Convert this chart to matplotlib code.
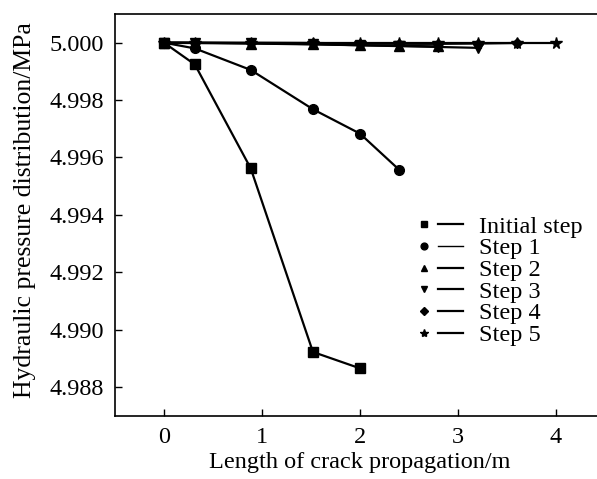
import numpy as np
import matplotlib.pyplot as plt
from matplotlib.lines import Line2D
from matplotlib.legend_handler import HandlerTuple

# crack length points (m)
x_all = [0, 0.315, 0.885, 1.52, 2.0, 2.4, 2.8, 3.2, 3.6, 4.0]

# hydraulic pressure (MPa) for each step
p_init = [5.0, 4.99924, 4.99562, 4.98922, 4.98865]
p_step1 = [5.0, 4.99980, 4.99905, 4.99768, 4.99683, 4.99557]
p_step2 = [5.0, 4.99999, 4.99997, 4.99994, 4.99991, 4.99989, 4.99987]
p_step3 = [5.0, 5.0, 4.99998, 4.99995, 4.99991, 4.99988, 4.99985, 4.99982]
p_step4 = [5.0, 5.0, 5.0, 4.99999, 4.99997, 4.99996, 4.99996, 4.99997, 4.99999]
p_step5 = [5.0, 5.0, 5.0, 5.0, 5.0, 5.0, 5.0, 5.0, 5.0, 5.0]

labels = ['Initial step', 'Step 1', 'Step 2', 'Step 3', 'Step 4', 'Step 5']
markers = ['s', 'o', '^', 'v', 'D', '*']
msizes = [6.5, 7, 7, 7, 5.5, 8.5]
leg_lw = [1.6, 1.0, 1.6, 1.6, 1.6, 1.6]
series = [p_init, p_step1, p_step2, p_step3, p_step4, p_step5]

plt.rcParams['font.family'] = ['Liberation Serif', 'DejaVu Serif']

fig = plt.figure(figsize=(5.97, 4.79), dpi=100)
ax = fig.add_axes([0.1926, 0.1322, 0.8208, 0.8386])

handles = []
for p, m, ms, llw in zip(series, markers, msizes, leg_lw):
    ax.plot(x_all[:len(p)], p, color='black', lw=1.6, marker=m, markersize=ms)
    hm = Line2D([], [], color='black', marker=m, linestyle='none', markersize=ms * 0.7)
    hl = Line2D([], [], color='black', lw=llw)
    handles.append((hm, hl))

ax.set_xlim(-0.5, 4.5)
ax.set_ylim(4.987, 5.001)
ax.set_xticks([0, 1, 2, 3, 4])
ax.set_yticks([4.988, 4.990, 4.992, 4.994, 4.996, 4.998, 5.000])
ax.set_yticklabels(['%.3f' % v for v in ax.get_yticks()])
ax.tick_params(direction='in', labelsize=17.5, length=5, width=1)
ax.tick_params(axis='y', pad=8)
ax.tick_params(axis='x', pad=8)
for s in ax.spines.values():
    s.set_linewidth(1.2)

ax.set_xlabel('Length of crack propagation/m', fontsize=17.5, labelpad=3)
ax.set_ylabel('Hydraulic pressure distribution/MPa', fontsize=18.5)
ax.yaxis.set_label_coords(-0.162, 0.511)

ax.legend(handles, labels, handler_map={tuple: HandlerTuple(ndivide=None, pad=0.06)},
          loc='upper left', bbox_to_anchor=(0.606, 0.4975), frameon=False,
          fontsize=17.5, handlelength=2.12, handletextpad=0.62, labelspacing=-0.015,
          borderaxespad=0, borderpad=0)

fig.savefig('out.png', dpi=100)
